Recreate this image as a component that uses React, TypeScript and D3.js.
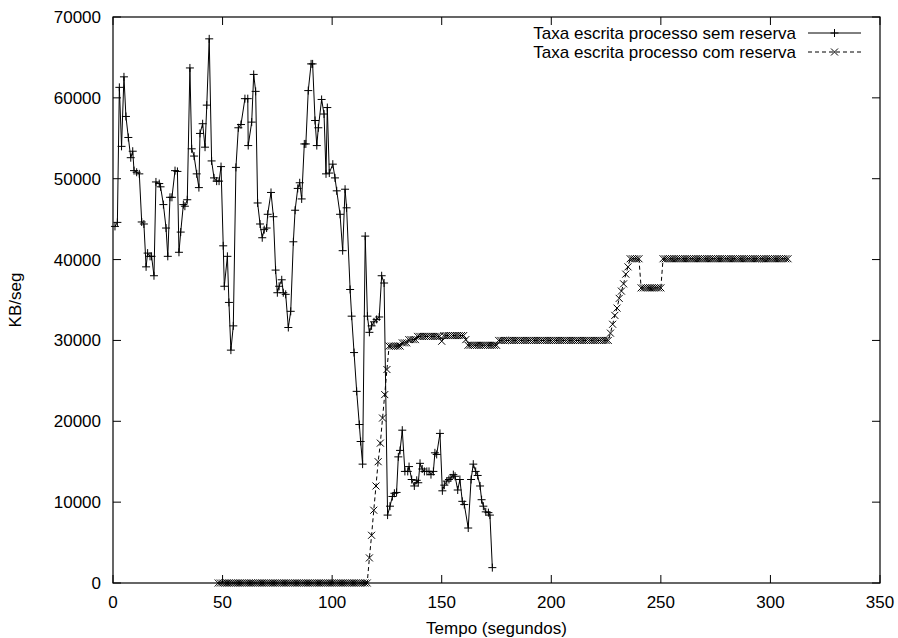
import React from "react";
import * as d3 from "d3";

// Series 1: "Taxa escrita processo sem reserva" (time in s, KB/seg)
const semTimes = [
  0.9, 2.0, 2.9, 3.9, 5.0, 5.9, 7.0, 8.1, 9.0, 9.6,
  10.8, 12.0, 13.1, 14.1, 15.1, 15.8, 16.9, 17.6, 18.7, 19.6,
  21.1, 21.7, 23.0, 24.2, 25.0, 26.0, 26.9, 28.3, 29.4, 30.1,
  30.9, 32.1, 32.8, 33.9, 35.1, 35.9, 37.0, 38.2, 39.2, 39.7,
  40.9, 42.0, 42.8, 43.9, 45.0, 46.1, 47.3, 48.4, 49.3, 50.3,
  50.8, 52.2, 52.9, 53.8, 54.9, 56.1, 57.2, 58.4, 60.2, 61.5,
  61.7, 63.3, 64.2, 65.1, 66.0, 67.1, 68.1, 69.0, 70.1, 70.6,
  72.1, 73.2, 74.2, 75.0, 75.8, 77.0, 77.7, 78.8, 80.0, 81.1,
  82.3, 83.1, 84.3, 85.2, 86.1, 87.3, 88.0, 89.1, 90.4, 91.1,
  92.2, 93.0, 93.7, 95.2, 96.3, 97.2, 97.8, 98.7, 100.3, 101.3,
  102.1, 103.6, 104.8, 105.9, 106.6, 108.2, 108.9, 110.0, 111.2, 112.4,
  113.0, 113.9, 115.1, 116.1, 117.0, 118.0, 119.1, 120.3, 121.5, 122.6,
  123.7, 125.3, 126.4, 127.5, 128.4, 129.4, 130.2, 131.0, 132.0, 133.2,
  134.5, 135.1, 136.3, 137.5, 138.6, 139.3, 140.1, 141.1, 142.1, 143.2,
  144.2, 145.1, 146.2, 146.9, 147.7, 149.2, 150.3, 151.2, 152.3, 153.3,
  154.2, 155.3, 156.1, 157.3, 158.3, 159.4, 160.3, 162.1, 163.4, 164.4,
  165.5, 166.4, 167.5, 168.2, 169.0, 170.1, 171.3, 172.0, 173.1,
];
const semValues = [
  44100, 44600, 61300, 54000, 62600, 57700, 55100, 52600, 53400, 51000,
  50800, 50600, 44650, 44400, 39100, 40800, 40400, 40400, 38000, 49600,
  49400, 49000, 46800, 43900, 40400, 47700, 47700, 51000, 50900, 40900,
  43400, 46800, 46600, 47400, 63700, 53700, 52800, 50600, 48900, 55600,
  56800, 53900, 59100, 67300, 52200, 50100, 49700, 49700, 51500, 41700,
  36700, 40400, 34700, 28800, 31800, 51400, 56300, 56700, 59900, 59900,
  54100, 57000, 62900, 60800, 47000, 44400, 42700, 43700, 43900, 45600,
  48300, 45300, 38700, 35900, 36700, 37500, 35900, 35700, 31600, 33600,
  42200, 46100, 48800, 49500, 47500, 54300, 54300, 60900, 64200, 64200,
  57200, 54100, 56300, 59800, 58000, 50600, 58800, 50700, 51800, 50100,
  48500, 45600, 41100, 48700, 46400, 36300, 33000, 28500, 23700, 19600,
  17500, 14700, 42900, 33000, 31000, 31800, 32300, 32600, 32900, 38000,
  37100, 8400, 9500, 10700, 11100, 11200, 15600, 16400, 18900, 13800,
  13800, 14400, 12800, 12000, 12700, 12400, 14800, 14100, 13800, 13800,
  13800, 13400, 13800, 16100, 15900, 18500, 11400, 12100, 12600, 12800,
  13000, 13400, 13200, 11500, 12800, 10100, 9700, 6800, 12800, 14700,
  13800, 13300, 12000, 10300, 9500, 8800, 8700, 8400, 1900,
];

// Series 2: "Taxa escrita processo com reserva", one sample per second from t = 48
const comStart = 48;
const comValues = [
  // 48..116
  0, 0, 0, 0, 0, 0, 0, 0, 0, 0,
  0, 0, 0, 0, 0, 0, 0, 0, 0, 0,
  0, 0, 0, 0, 0, 0, 0, 0, 0, 0,
  0, 0, 0, 0, 0, 0, 0, 0, 0, 0,
  0, 0, 0, 0, 0, 0, 0, 0, 0, 0,
  0, 0, 0, 0, 0, 0, 0, 0, 0, 0,
  0, 0, 0, 0, 0, 0, 0, 0, 0,
  // 117..125
  3100, 5900, 9000, 12000, 15000, 17300, 20400, 23300, 26400,
  // 126..175
  29300, 29300, 29300, 29300, 29300, 29300, 29700, 29700, 29700, 30100,
  30100, 30100, 30100, 30500, 30500, 30500, 30500, 30500, 30500, 30500,
  30500, 30500, 30500, 30500, 29900, 30600, 30600, 30600, 30600, 30600,
  30600, 30600, 30600, 30600, 30600, 30100, 29400, 29400, 29400, 29400,
  29400, 29400, 29400, 29400, 29400, 29400, 29400, 29400, 29400, 29400,
  // 176..226
  30000, 30000, 30000, 30000, 30000, 30000, 30000, 30000, 30000, 30000,
  30000, 30000, 30000, 30000, 30000, 30000, 30000, 30000, 30000, 30000,
  30000, 30000, 30000, 30000, 30000, 30000, 30000, 30000, 30000, 30000,
  30000, 30000, 30000, 30000, 30000, 30000, 30000, 30000, 30000, 30000,
  30000, 30000, 30000, 30000, 30000, 30000, 30000, 30000, 30000, 30000,
  30000,
  // 227..236
  30900, 32000, 33100, 34000, 35200, 36100, 37000, 38200, 39100, 40100,
  // 237..240
  40100, 40100, 40100, 40100,
  // 241..250
  36500, 36500, 36500, 36500, 36500, 36500, 36500, 36500, 36500, 36500,
  // 251..308
  40100, 40100, 40100, 40100, 40100, 40100, 40100, 40100, 40100, 40100,
  40100, 40100, 40100, 40100, 40100, 40100, 40100, 40100, 40100, 40100,
  40100, 40100, 40100, 40100, 40100, 40100, 40100, 40100, 40100, 40100,
  40100, 40100, 40100, 40100, 40100, 40100, 40100, 40100, 40100, 40100,
  40100, 40100, 40100, 40100, 40100, 40100, 40100, 40100, 40100, 40100,
  40100, 40100, 40100, 40100, 40100, 40100, 40100, 40100,
];

const xTicks = [0, 50, 100, 150, 200, 250, 300, 350];
const yTicks = [0, 10000, 20000, 30000, 40000, 50000, 60000, 70000];
const legendLabels = [
  "Taxa escrita processo sem reserva",
  "Taxa escrita processo com reserva",
];
const xTitle = "Tempo (segundos)";
const yTitle = "KB/seg";

const W = 898;
const H = 638;
const FONT = "'Liberation Sans', Arial, Helvetica, sans-serif";

export default function App() {
  const left = 113, right = 880, top = 17, bottom = 583;
  const x = d3.scaleLinear().domain([0, 350]).range([left, right]);
  const y = d3.scaleLinear().domain([0, 70000]).range([bottom, top]);

  const sem = semTimes.map((t, i) => [t, semValues[i]] as [number, number]);
  const com = comValues.map((v, i) => [comStart + i, v] as [number, number]);

  const line = d3
    .line<[number, number]>()
    .x((d) => x(d[0]))
    .y((d) => y(d[1]));

  const ps = 4;
  const xs = 3.5;
  const plusPath = (cx: number, cy: number) =>
    `M${cx - ps},${cy}h${2 * ps}M${cx},${cy - ps}v${2 * ps}`;
  const crossPath = (cx: number, cy: number) =>
    `M${cx - xs},${cy - xs}l${2 * xs},${2 * xs}M${cx - xs},${cy + xs}l${2 * xs},${-2 * xs}`;

  const tickLen = 8;
  const fs = 17;

  const legendTextX = 796;
  const legendLineX0 = 808;
  const legendLineX1 = 861;
  const legendRowY = [33, 52];

  return (
    <svg
      width={W}
      height={H}
      style={{ position: "absolute", left: 0, top: 0, background: "#fff" }}
      fontFamily={FONT}
    >
      <rect x={0} y={0} width={W} height={H} fill="#fff" />
      {/* ticks */}
      <g stroke="#000" strokeWidth={1}>
        {xTicks.map((t) => (
          <g key={"xt" + t}>
            <line x1={x(t)} x2={x(t)} y1={bottom} y2={bottom - tickLen} />
            <line x1={x(t)} x2={x(t)} y1={top} y2={top + tickLen} />
          </g>
        ))}
        {yTicks.map((t) => (
          <g key={"yt" + t}>
            <line x1={left} x2={left + tickLen} y1={y(t)} y2={y(t)} />
            <line x1={right} x2={right - tickLen} y1={y(t)} y2={y(t)} />
          </g>
        ))}
      </g>
      {/* tick labels */}
      <g fontSize={fs} fill="#000">
        {xTicks.map((t) => (
          <text key={"xl" + t} x={x(t)} y={602} textAnchor="middle" dy="0.35em">
            {t}
          </text>
        ))}
        {yTicks.map((t) => (
          <text key={"yl" + t} x={101} y={y(t)} textAnchor="end" dy="0.35em">
            {t}
          </text>
        ))}
        <text x={(left + right) / 2} y={628} textAnchor="middle" dy="0.35em">
          {xTitle}
        </text>
        <text
          transform={`translate(15,${(top + bottom) / 2}) rotate(-90)`}
          textAnchor="middle"
          dy="0.35em"
        >
          {yTitle}
        </text>
      </g>
      {/* series 1 */}
      <path d={line(sem) || ""} fill="none" stroke="#000" strokeWidth={1} />
      <path
        d={sem.map((d) => plusPath(x(d[0]), y(d[1]))).join("")}
        fill="none"
        stroke="#000"
        strokeWidth={1}
      />
      {/* series 2 */}
      <path
        d={line(com) || ""}
        fill="none"
        stroke="#000"
        strokeWidth={1}
        strokeDasharray="4,3"
      />
      <path
        d={com.map((d) => crossPath(x(d[0]), y(d[1]))).join("")}
        fill="none"
        stroke="#000"
        strokeWidth={1}
      />
      {/* legend */}
      <g fontSize={fs} fill="#000">
        {legendLabels.map((l, i) => (
          <text key={l} x={legendTextX} y={legendRowY[i]} textAnchor="end" dy="0.35em">
            {l}
          </text>
        ))}
      </g>
      <line
        x1={legendLineX0}
        x2={legendLineX1}
        y1={legendRowY[0]}
        y2={legendRowY[0]}
        stroke="#000"
      />
      <path
        d={plusPath((legendLineX0 + legendLineX1) / 2, legendRowY[0])}
        stroke="#000"
        fill="none"
      />
      <line
        x1={legendLineX0}
        x2={legendLineX1}
        y1={legendRowY[1]}
        y2={legendRowY[1]}
        stroke="#000"
        strokeDasharray="4,3"
      />
      <path
        d={crossPath((legendLineX0 + legendLineX1) / 2, legendRowY[1])}
        stroke="#000"
        fill="none"
      />
      {/* border */}
      <rect
        x={left}
        y={top}
        width={right - left}
        height={bottom - top}
        fill="none"
        stroke="#000"
        strokeWidth={1.2}
      />
    </svg>
  );
}
